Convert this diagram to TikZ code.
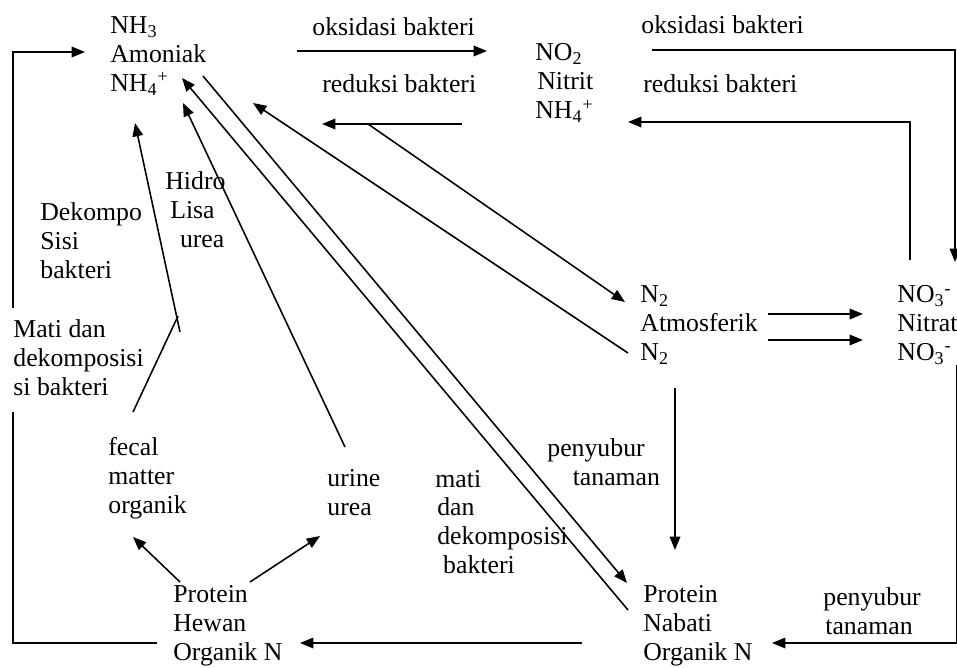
\documentclass[tikz,border=0pt]{standalone}
\usepackage{fontspec}
\setmainfont{Liberation Serif}
\usetikzlibrary{arrows.meta}
\tikzset{
  >={Triangle[length=2.4mm,width=1.9mm]},
  lbl/.style={anchor=west,align=left,inner sep=0pt,
    font=\fontsize{13.2}{14.8}\selectfont},
  flow/.style={->,line width=0.8pt},
  link/.style={line width=0.8pt},
}
\newcommand{\sub}[1]{\textsubscript{#1}}
\newcommand{\sups}[1]{\textsuperscript{#1}}

\begin{document}
\begin{tikzpicture}[x=0.018cm,y=-0.018cm]
  \useasboundingbox (0,0) rectangle (957,667);
  % compounds
  \node[lbl] (amon) at (110,56) {NH\sub{3}\\Amoniak\\NH\sub{4}\sups{+}};
  \node[lbl] (nitrit) at (535,83) {NO\sub{2}\\\hspace*{1pt}Nitrit\\NH\sub{4}\sups{+}};
  \node[lbl] (atmos) at (640,325) {N\sub{2}\\Atmosferik\\N\sub{2}};
  \node[lbl] (nitrat) at (897,325) {NO\sub{3}\sups{-}\\Nitrat\\NO\sub{3}\sups{-}};
  \node[lbl] (nabati) at (643,626) {Protein\\Nabati\\Organik N};
  \node[lbl] (hewan) at (173,626) {Protein\\Hewan\\Organik N};
  \node[lbl] (fecal) at (108,478) {fecal\\matter\\organik};
  \node[lbl] (urine) at (327,493) {urine\\urea};
  % process labels
  \node[lbl] (oks1) at (312,27) {oksidasi bakteri};
  \node[lbl] (red1) at (322,84) {reduksi bakteri};
  \node[lbl] (oks2) at (641,25) {oksidasi bakteri};
  \node[lbl] (red2) at (643,84) {reduksi bakteri};
  \node[lbl] (hidro) at (165,210) {Hidro\\\hspace*{2.5pt}Lisa\\\hspace*{7.5pt}urea};
  \node[lbl] (dekompo) at (40,241) {Dekompo\\Sisi\\bakteri};
  \node[lbl] (matidan) at (13,358) {Mati dan\\dekomposisi\\si bakteri};
  \node[lbl] (matidek) at (435,522) {mati\\\hspace*{1pt}dan\\\hspace*{1pt}dekomposisi\\\hspace*{4pt}bakteri};
  \node[lbl] (peny1) at (547,462) {penyubur\\\hspace*{13pt}tanaman};
  \node[lbl] (peny2) at (823,611) {penyubur\\\hspace*{1pt}tanaman};
  % end points of the connectors
  \coordinate (am1) at (297,51);  \coordinate (no1) at (487,51);
  \coordinate (no2) at (652,50);  \coordinate (ne) at (955,50);  \coordinate (nt1) at (955,262);
  \coordinate (nt2) at (910,260); \coordinate (nw) at (910,122); \coordinate (no3) at (628,122);
  \coordinate (no4) at (462,124); \coordinate (am2) at (322,124); \coordinate (br) at (368,124);
  \coordinate (at1) at (625,302); \coordinate (at2) at (628,353); \coordinate (am3) at (253,103);
  \coordinate (at3) at (768,314); \coordinate (nt3) at (863,314);
  \coordinate (at4) at (768,340); \coordinate (nt4) at (863,340);
  \coordinate (at5) at (675,388); \coordinate (nb1) at (675,550);
  \coordinate (nt5) at (957,365); \coordinate (se) at (957,643); \coordinate (nb2) at (772,643);
  \coordinate (nb3) at (582,643); \coordinate (hw1) at (300,643);
  \coordinate (hw2) at (180,582); \coordinate (fc1) at (133,537);
  \coordinate (hw3) at (250,582); \coordinate (ur1) at (320,536);
  \coordinate (hw4) at (157,643); \coordinate (sw) at (13,643); \coordinate (lf1) at (13,412);
  \coordinate (lf2) at (13,308);  \coordinate (nwc) at (13,52); \coordinate (am4) at (85,52);
  \coordinate (fc2) at (133,412); \coordinate (kk1) at (178,316); \coordinate (kk2) at (180,332);
  \coordinate (am5) at (135,123);
  \coordinate (ur2) at (345,447); \coordinate (am6) at (183,103);
  \coordinate (am7) at (203,76);  \coordinate (nb4) at (627,583);
  \coordinate (nb5) at (628,610); \coordinate (am8) at (182,78);
  % connectors
  \draw[flow] (am1) -- (no1);
  \draw[flow] (no2) -- (ne) -- (nt1);
  \draw[flow] (nt2) -- (nw) -- (no3);
  \draw[flow] (no4) -- (am2);
  \draw[flow] (br) -- (at1);
  \draw[flow] (at2) -- (am3);
  \draw[flow] (at3) -- (nt3);
  \draw[flow] (at4) -- (nt4);
  \draw[flow] (at5) -- (nb1);
  \draw[flow] (nt5) -- (se) -- (nb2);
  \draw[flow] (nb3) -- (hw1);
  \draw[flow] (hw2) -- (fc1);
  \draw[flow] (hw3) -- (ur1);
  \draw[link] (hw4) -- (sw) -- (lf1);
  \draw[flow] (lf2) -- (nwc) -- (am4);
  \draw[link] (fc2) -- (kk1);
  \draw[flow] (kk2) -- (am5);
  \draw[flow] (ur2) -- (am6);
  \draw[flow] (am7) -- (nb4);
  \draw[flow] (nb5) -- (am8);
\end{tikzpicture}
\end{document}
